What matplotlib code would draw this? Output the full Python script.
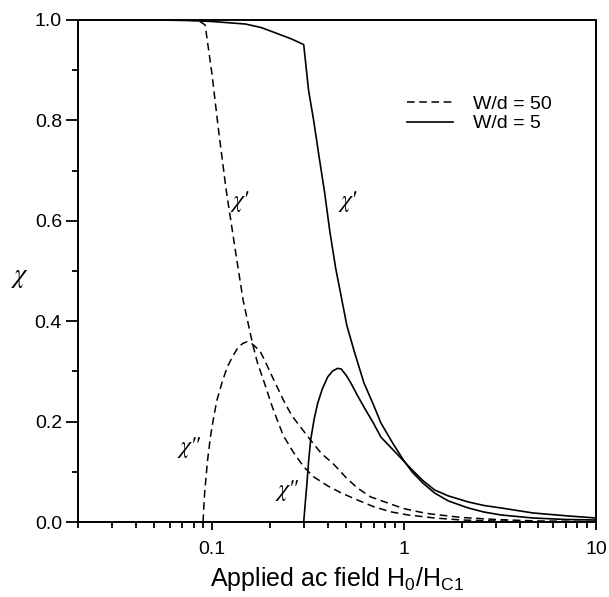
import matplotlib
matplotlib.use("Agg")
import matplotlib.pyplot as plt
from matplotlib.ticker import FixedLocator, LogLocator, NullFormatter, FormatStrFormatter

plt.rcParams['font.family'] = ['Liberation Sans', 'DejaVu Sans']
plt.rcParams['mathtext.default'] = 'regular'

# W/d = 50 (dashed)
h50_re = [0.02, 0.06, 0.085, 0.092, 0.1, 0.1075, 0.118, 0.132, 0.145, 0.162, 0.172,
          0.185, 0.206, 0.22, 0.235, 0.265, 0.3, 0.338, 0.4, 0.47, 0.57, 0.7, 0.86,
          1.05, 1.44, 2.0, 3.0, 5.0, 10.0]
chi50_re = [1.0, 1.0, 0.999, 0.99, 0.89, 0.787, 0.665, 0.542, 0.442, 0.357, 0.318,
            0.283, 0.229, 0.2, 0.172, 0.139, 0.11, 0.09, 0.072, 0.058, 0.044, 0.03, 0.02,
            0.014, 0.008, 0.004, 0.002, 0.001, 0.0]
h50_im = [0.0897, 0.0905, 0.0915, 0.093, 0.0945, 0.098, 0.102, 0.106, 0.113, 0.12,
          0.128, 0.137, 0.145, 0.152, 0.16, 0.165, 0.178, 0.19, 0.206, 0.235, 0.26,
          0.289, 0.326, 0.37, 0.43, 0.5, 0.57, 0.67, 0.78, 0.99, 1.2, 1.38, 2.0, 3.0,
          5.0, 10.0]
chi50_im = [0.0, 0.03, 0.06, 0.09, 0.12, 0.17, 0.21, 0.243, 0.28, 0.309,
            0.33, 0.349, 0.356, 0.359, 0.356, 0.352, 0.34, 0.318, 0.289, 0.243, 0.212,
            0.189, 0.163, 0.137, 0.115, 0.088, 0.068, 0.05, 0.041, 0.027, 0.02, 0.016,
            0.009, 0.005, 0.002, 0.001]

# W/d = 5 (solid)
h5_re = [0.02, 0.05, 0.075, 0.1, 0.149, 0.18, 0.222, 0.26, 0.3, 0.318, 0.338, 0.36,
         0.386, 0.41, 0.44, 0.47, 0.503, 0.55, 0.618, 0.69, 0.758, 0.87, 0.99, 1.1,
         1.25, 1.44, 1.7, 2.16, 2.6, 3.2, 4.7, 7.0, 10.0]
chi5_re = [1.0, 1.0, 0.999, 0.997, 0.992, 0.985, 0.972, 0.962, 0.951, 0.86, 0.80,
           0.73, 0.655, 0.58, 0.506, 0.45, 0.392, 0.34, 0.277, 0.235, 0.197, 0.158,
           0.124, 0.1, 0.078, 0.058, 0.042, 0.028, 0.02, 0.014, 0.008, 0.005, 0.004]
h5_im = [0.3, 0.306, 0.312, 0.318, 0.326, 0.34, 0.355, 0.375, 0.4, 0.425, 0.45, 0.47,
         0.5, 0.528, 0.57, 0.618, 0.69, 0.758, 0.86, 0.965, 1.1, 1.25, 1.44, 1.7,
         2.16, 2.6, 3.2, 4.7, 7.2, 10.0]
chi5_im = [0.0, 0.04, 0.078, 0.12, 0.163, 0.205, 0.237, 0.265, 0.289, 0.301, 0.306,
           0.305, 0.292, 0.277, 0.253, 0.229, 0.198, 0.169, 0.147, 0.127, 0.104, 0.083,
           0.064, 0.052, 0.04, 0.033, 0.028, 0.018, 0.012, 0.008]

fig = plt.figure(figsize=(6.09, 5.97), dpi=100)
ax = fig.add_axes([0.128, 0.1256, 0.8507, 0.8409])

dash = (5, 3)
ax.plot(h50_re, chi50_re, color='black', lw=1.1, dashes=dash, label='W/d = 50')
ax.plot(h50_im, chi50_im, color='black', lw=1.1, dashes=dash)
ax.plot(h5_re, chi5_re, color='black', lw=1.2, label='W/d = 5')
ax.plot(h5_im, chi5_im, color='black', lw=1.2)

ax.set_xscale('log')
ax.set_xlim(0.02, 10)
ax.set_ylim(0, 1.0)

ax.xaxis.set_major_locator(FixedLocator([0.1, 1, 10]))
ax.xaxis.set_major_formatter(FormatStrFormatter('%g'))
ax.xaxis.set_minor_locator(LogLocator(base=10, subs=range(2, 10)))
ax.xaxis.set_minor_formatter(NullFormatter())
ax.set_yticks([0.0, 0.2, 0.4, 0.6, 0.8, 1.0])
ax.set_yticks([0.1, 0.3, 0.5, 0.7, 0.9], minor=True)
ax.yaxis.set_major_formatter(FormatStrFormatter('%.1f'))

ax.tick_params(axis='both', which='both', direction='out', width=1.3,
               top=False, right=False, labelsize=14, colors='black')
ax.tick_params(axis='x', which='major', length=6, pad=8)
ax.tick_params(axis='x', which='minor', length=4)
ax.tick_params(axis='y', which='major', length=8.5, pad=3)
ax.tick_params(axis='y', which='minor', length=4.2)
for sp in ax.spines.values():
    sp.set_linewidth(1.4)

ax.set_xlabel('Applied ac field H$_0$/H$_{C1}$', fontsize=18, labelpad=5)
ax.set_ylabel('χ', fontsize=19, rotation=0, va='center', ha='center',
              family='STIXGeneral', style='italic')
ax.yaxis.set_label_coords(-0.112, 0.49)

chi_font = dict(fontsize=17, ha='center', va='center', family='STIXGeneral', style='italic')
ax.text(0.14, 0.64, "χ'", **chi_font)
ax.text(0.51, 0.64, "χ'", **chi_font)
ax.text(0.077, 0.15, 'χ"', **chi_font)
ax.text(0.247, 0.064, 'χ"', **chi_font)

ax.legend(loc='upper right', bbox_to_anchor=(0.948, 0.885), frameon=False,
          fontsize=14, handlelength=2.4, handletextpad=1.0, labelspacing=0.1)

fig.savefig('out.png', dpi=100)
